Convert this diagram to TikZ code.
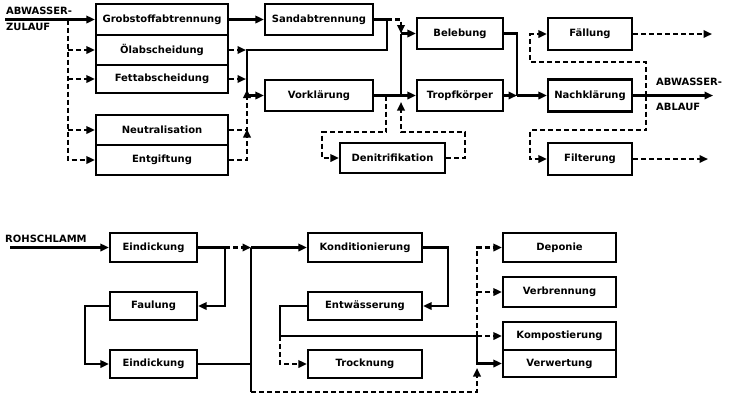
\documentclass[tikz,border=0pt]{standalone}
\usepackage{fontspec}
\setmainfont{DejaVu Sans}
\usetikzlibrary{arrows.meta}
\begin{document}
\begin{tikzpicture}[x=1pt,y=-1pt,
  box/.style 2 args={draw, line width=2.4pt, minimum width=#1, minimum height=#2, inner sep=0pt, font=\fontsize{10}{12}\selectfont\bfseries},
  lbl/.style={inner sep=0pt, font=\fontsize{10}{12}\selectfont\bfseries},
  sol/.style={line width=2.1pt},
  dsh/.style={line width=2.1pt, dash pattern=on 5pt off 3pt},
  arr/.style={-{Triangle[length=8.5pt,width=7.5pt]}},
]
\useasboundingbox (0,0) rectangle (732,397);
% ---------- top: boxes
\node[box={132}{31}] (grob) at (162,19.5) {Grobstoffabtrennung};
\node[box={132}{30}] (oel)  at (162,50) {Ölabscheidung};
\node[box={132}{28}] (fett) at (162,79) {Fettabscheidung};
\node[box={132}{30}] (neut) at (162,130) {Neutralisation};
\node[box={132}{30}] (entg) at (162,160) {Entgiftung};
\node[box={108}{31}] (sand) at (319,19.5) {Sandabtrennung};
\node[box={108}{31}] (vork) at (319,95.5) {Vorklärung};
\node[box={105}{30}] (deni) at (392.5,158) {Denitrifikation};
\node[box={86}{31}] (bele) at (460,33.5) {Belebung};
\node[box={86}{31}] (trop) at (460,95.5) {Tropfkörper};
\node[box={84}{32}] (fael) at (590,34) {Fällung};
\node[box={84}{32}] (nach) at (590,95.5) {Nachklärung};
\node[box={84}{32}] (filt) at (590,159) {Filterung};
% labels
\node[lbl, anchor=base west] (zu1) at (6,14) {ABWASSER-};
\node[lbl, anchor=base west] (zu2) at (6,30) {ZULAUF};
\node[lbl, anchor=base west] (ab1) at (656,85) {ABWASSER-};
\node[lbl, anchor=base west] (ab2) at (656,110) {ABLAUF};
% coordinates
\coordinate (zin) at (5,19.5);
\coordinate (fd) at (68,19.5);
\coordinate (va) at (247,50);
\coordinate (vb) at (247,97);
\coordinate (sj) at (387,19.5);
\coordinate (bus) at (401,33.5);
\coordinate (nj) at (517,33.5);
\coordinate (ax) at (646,95.5);
% ---------- top: connectors
\draw[sol,arr] (zin) -- (grob.west);
\draw[dsh,arr] (fd) -- (fd |- entg.west) -- (entg.west);
\draw[dsh,arr] (fd |- oel.west) -- (oel.west);
\draw[dsh,arr] (fd |- fett.west) -- (fett.west);
\draw[dsh,arr] (fd |- neut.west) -- (neut.west);
\draw[sol,arr] (grob.east) -- (sand.west);
\draw[sol] (sand.east) -- (sj) -- (sj |- va) -- (va) -- (vb);
\draw[dsh,arr,shorten >=1pt] (oel.east) -- (va);
\draw[dsh,arr,shorten >=1pt] (fett.east) -- (fett.east -| va);
\draw[sol,arr] (vork.west -| va) -- (vork.west);
\draw[dsh,arr] (neut.east) -- (neut.east -| va) -- ([yshift=6pt]vork.west -| va);
\draw[dsh,arr] (entg.east) -- (entg.east -| va) -- ([yshift=1pt]neut.east -| va);
\draw[dsh,arr] (sj) -- (sj -| bus) -- (bus);
\draw[sol] (bus) -- (bus |- vork.east);
\draw[sol] (vork.east) -- (vork.east -| bus);
\draw[sol,arr] (bus) -- (bele.west);
\draw[sol,arr] (vork.east -| bus) -- (trop.west);
\draw[dsh,arr] (386,95.5) -- (386,132) -- (322,132) -- (322,158) -- (deni.west);
\draw[dsh,arr] (deni.east) -- (465,158) -- (465,132) -- (401,132) -- (401,102);
\draw[sol] (bele.east) -- (nj) -- (nj |- trop.east);
\draw[sol,arr] (trop.east) -- (trop.east -| nj);
\draw[sol,arr] (trop.east -| nj) -- (nach.west);
\draw[sol,arr] (nach.east) -- (713,95.5);
\draw[dsh,arr] (ax) -- (646,62) -- (530,62) -- (530,34) -- (fael.west);
\draw[dsh,arr] (ax) -- (646,130) -- (530,130) -- (530,159) -- (filt.west);
\draw[dsh,arr] (fael.east) -- (712,34);
\draw[dsh,arr] (filt.east) -- (708,159);
% ---------- bottom: boxes
\node[box={87}{29}] (ein1) at (153.5,247.5) {Eindickung};
\node[box={87}{28}] (faul) at (153.5,306) {Faulung};
\node[box={87}{28}] (ein2) at (153.5,364) {Eindickung};
\node[box={114}{29}] (kond) at (365,247.5) {Konditionierung};
\node[box={114}{28}] (entw) at (365,306) {Entwässerung};
\node[box={114}{28}] (trock) at (365,364) {Trocknung};
\node[box={113}{29}] (depo) at (559.5,247.5) {Deponie};
\node[box={113}{30}] (verb) at (559.5,292) {Verbrennung};
\node[box={113}{28}] (komp) at (559.5,336) {Kompostierung};
\node[box={113}{27}] (verw) at (559.5,363.5) {Verwertung};
\node[lbl, anchor=base west] (roh) at (5,242) {ROHSCHLAMM};
\coordinate (rin) at (10,247.5);
\coordinate (ej) at (225,247.5);
\coordinate (bb) at (251,247.5);
\coordinate (bbot) at (251,392);
\coordinate (kj) at (448,247.5);
\coordinate (wj) at (280,306);
\coordinate (wl) at (280,336);
\coordinate (rj) at (477,336);
% ---------- bottom: connectors
\draw[sol,arr] (rin) -- (ein1.west);
\draw[sol] (ein1.east) -- (ej);
\draw[dsh,arr] (ej) -- (bb);
\draw[sol,arr] (ej) -- (ej |- faul.east) -- (faul.east);
\draw[sol,arr] (faul.west) -- (85,306) -- (85,364) -- (ein2.west);
\draw[sol] (ein2.east) -- (ein2.east -| bb);
\draw[sol] (bb) -- (bbot);
\draw[dsh,arr] (bbot) -- (bbot -| rj) -- (477,368);
\draw[sol,arr] (bb) -- (kond.west);
\draw[sol,arr] (kond.east) -- (kj) -- (kj |- entw.east) -- (entw.east);
\draw[sol] (entw.west) -- (wj) -- (wl) -- (rj);
\draw[dsh,arr] (wl) -- (wl |- trock.west) -- (trock.west);
\draw[dsh,arr] (rj) -- (rj |- depo.west) -- (depo.west);
\draw[dsh,arr] (rj |- verb.west) -- (verb.west);
\draw[dsh,arr] (rj) -- (komp.west);
\draw[sol,arr] (rj) -- (rj |- verw.west) -- (verw.west);
\end{tikzpicture}
\end{document}
